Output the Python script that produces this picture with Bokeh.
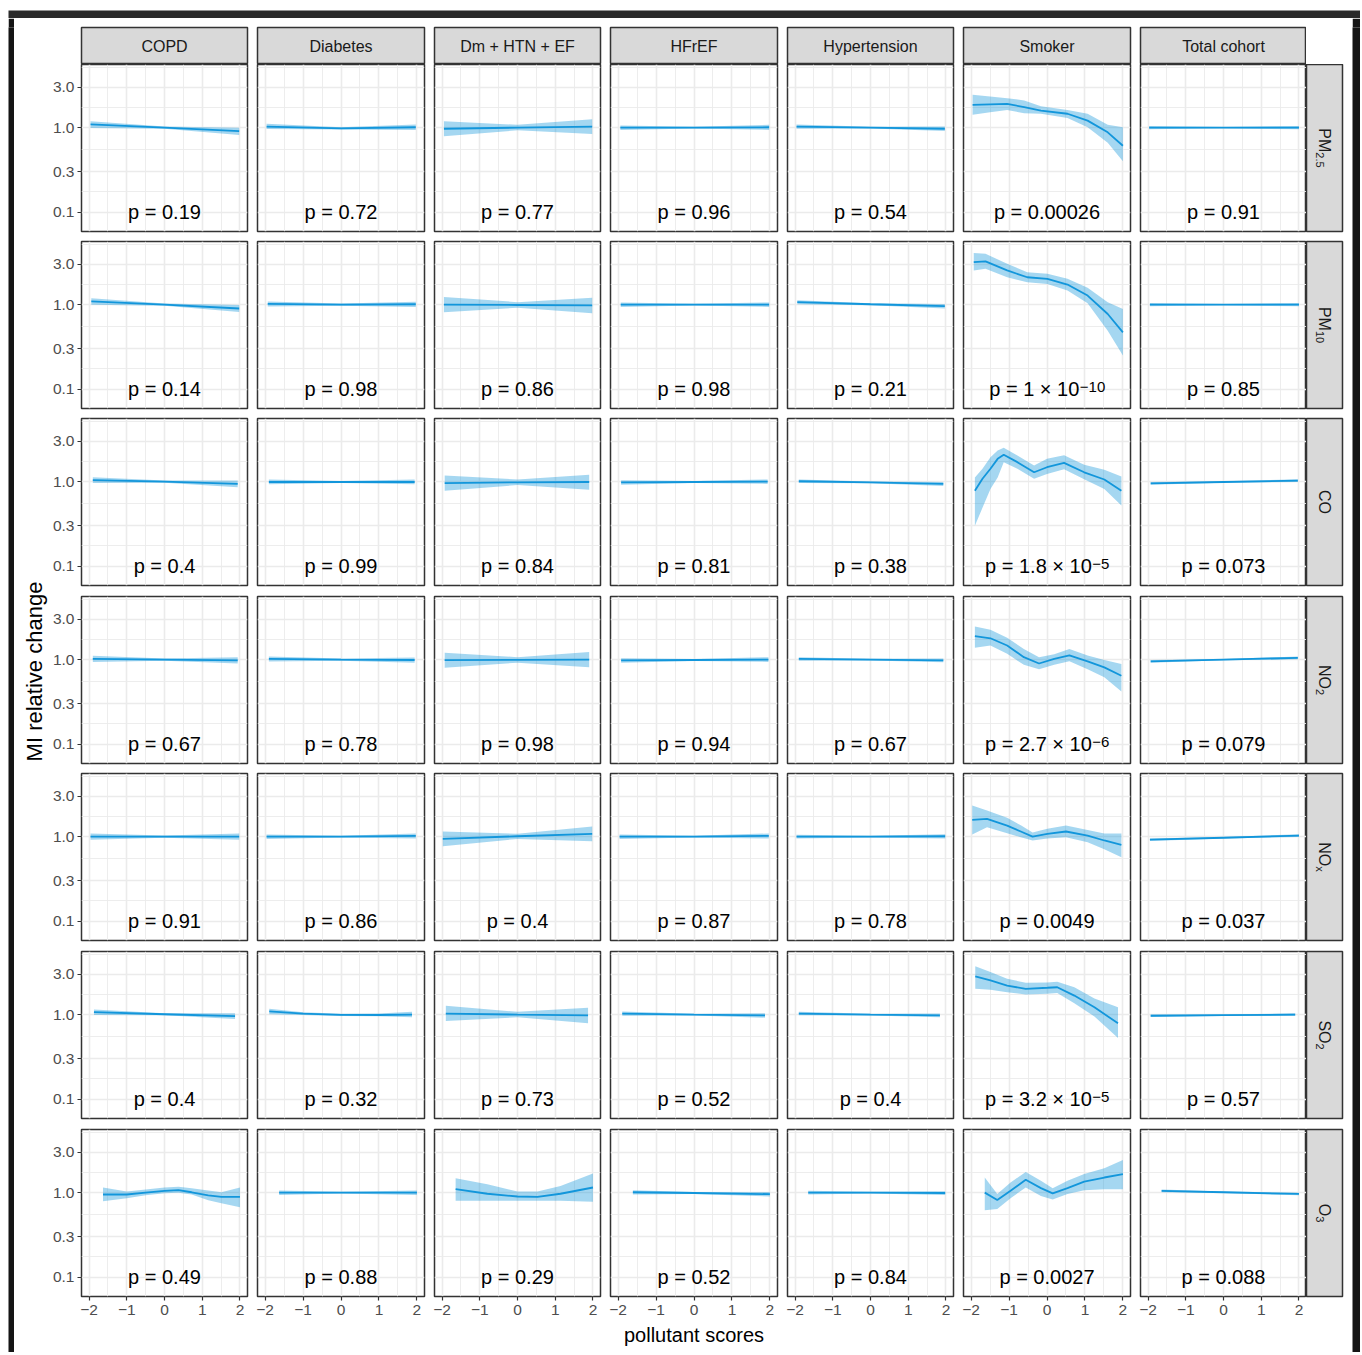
import math
from bokeh.plotting import figure
from bokeh.models import Range1d, FixedTicker, LinearAxis, LogAxis, GridBox, Grid
from bokeh.core.properties import value
from bokeh.embed import file_html
from bokeh.resources import INLINE

# ---------------- data ----------------
GROUPS = ["COPD", "Diabetes", "Dm + HTN + EF", "HFrEF", "Hypertension", "Smoker", "Total cohort"]
POLLUTANT_BASE = ["PM", "PM", "CO", "NO", "NO", "SO", "O"]
POLLUTANT_SUB = ["2.5", "10", "", "2", "x", "2", "3"]

P_COPD = ["0.19", "0.14", "0.4", "0.67", "0.91", "0.4", "0.49"]
P_DIAB = ["0.72", "0.98", "0.99", "0.78", "0.86", "0.32", "0.88"]
P_DMHTN = ["0.77", "0.86", "0.84", "0.98", "0.4", "0.73", "0.29"]
P_HFREF = ["0.96", "0.98", "0.81", "0.94", "0.87", "0.52", "0.52"]
P_HYPER = ["0.54", "0.21", "0.38", "0.67", "0.78", "0.4", "0.84"]
P_SMOKER = ["0.00026", "1 × 10^−10", "1.8 × 10^−5", "2.7 × 10^−6", "0.0049", "3.2 × 10^−5", "0.0027"]
P_TOTAL = ["0.91", "0.85", "0.073", "0.079", "0.037", "0.57", "0.088"]

COPD_X = [[-1.96, 0.0, 1.98], [-1.94, 0.0, 1.98], [-1.90, 0.0, 1.94], [-1.90, 0.0, 1.94],
          [-1.96, 0.0, 1.98], [-1.87, 0.0, 1.87],
          [-1.63, -1.0, -0.5, 0.0, 0.37, 0.72, 1.16, 1.51, 2.0]]
COPD_FIT = [[1.09, 1.00, 0.91], [1.09, 1.00, 0.90], [1.04, 1.00, 0.94], [1.02, 1.00, 0.98],
            [1.00, 1.00, 1.00], [1.07, 1.01, 0.96],
            [0.95, 0.95, 1.00, 1.05, 1.07, 1.01, 0.93, 0.89, 0.89]]
COPD_LO = [[0.99, 0.97, 0.82], [1.00, 0.97, 0.82], [0.96, 0.97, 0.86], [0.94, 0.97, 0.90],
           [0.92, 0.97, 0.92], [0.99, 0.98, 0.89],
           [0.79, 0.86, 0.93, 0.98, 1.00, 0.95, 0.81, 0.75, 0.67]]
COPD_HI = [[1.19, 1.03, 1.00], [1.19, 1.03, 0.99], [1.13, 1.03, 1.03], [1.11, 1.03, 1.07],
           [1.09, 1.03, 1.09], [1.15, 1.04, 1.04],
           [1.15, 1.03, 1.09, 1.15, 1.17, 1.13, 1.06, 1.01, 1.15]]

DIAB_X = [[-1.96, 0.0, 1.97], [-1.93, 0.0, 1.97], [-1.90, 0.0, 1.94], [-1.90, 0.0, 1.94],
          [-1.96, 0.0, 1.97], [-1.89, -1.0, 0.0, 1.0, 1.87], [-1.63, 0.0, 2.0]]
DIAB_FIT = [[1.03, 0.98, 1.01], [1.02, 1.00, 1.01], [0.99, 0.99, 0.99], [1.02, 1.00, 0.99],
            [1.00, 1.00, 1.02], [1.09, 1.03, 0.995, 0.99, 1.00], [1.00, 1.00, 1.00]]
DIAB_LO = [[0.96, 0.95, 0.94], [0.95, 0.97, 0.94], [0.93, 0.965, 0.93], [0.95, 0.97, 0.92],
           [0.94, 0.975, 0.95], [1.01, 0.99, 0.965, 0.955, 0.93], [0.94, 0.975, 0.94]]
DIAB_HI = [[1.11, 1.01, 1.09], [1.09, 1.03, 1.08], [1.06, 1.015, 1.06], [1.09, 1.03, 1.06],
           [1.06, 1.025, 1.09], [1.17, 1.07, 1.025, 1.03, 1.08], [1.06, 1.025, 1.06]]

DMHTN_X = [[-1.95, 0.0, 1.98], [-1.95, 0.0, 1.98], [-1.93, 0.0, 1.90], [-1.93, 0.0, 1.90],
           [-1.98, 0.0, 1.98], [-1.90, 0.0, 1.87], [-1.64, -0.8, 0.0, 0.53, 1.14, 2.0]]
DMHTN_FIT = [[0.97, 1.00, 1.03], [1.00, 0.99, 0.98], [0.96, 0.98, 0.99], [0.985, 0.995, 1.00],
             [0.94, 1.01, 1.08], [1.03, 1.00, 0.98], [1.10, 0.97, 0.90, 0.89, 0.97, 1.15]]
DMHTN_LO = [[0.79, 0.93, 0.84], [0.81, 0.92, 0.79], [0.78, 0.91, 0.80], [0.80, 0.92, 0.81],
            [0.77, 0.94, 0.88], [0.84, 0.93, 0.79], [0.80, 0.80, 0.80, 0.80, 0.80, 0.78]]
DMHTN_HI = [[1.19, 1.08, 1.26], [1.23, 1.07, 1.21], [1.18, 1.06, 1.21], [1.21, 1.07, 1.23],
            [1.15, 1.08, 1.32], [1.27, 1.08, 1.21], [1.48, 1.26, 1.03, 1.03, 1.20, 1.68]]

HFREF_X = [[-1.94, 0.0, 1.98], [-1.93, 0.0, 1.98], [-1.92, 0.0, 1.94], [-1.92, 0.0, 1.96],
           [-1.96, 0.0, 1.97], [-1.89, 0.0, 1.87], [-1.61, 0.0, 2.0]]
HFREF_FIT = [[1.00, 1.00, 1.01], [1.00, 1.00, 1.00], [0.98, 0.99, 1.00], [0.98, 0.99, 1.00],
             [1.00, 1.00, 1.02], [1.03, 1.00, 0.98], [1.01, 0.99, 0.96]]
HFREF_LO = [[0.94, 0.975, 0.94], [0.94, 0.975, 0.94], [0.92, 0.965, 0.94], [0.92, 0.965, 0.94],
            [0.94, 0.975, 0.95], [0.97, 0.975, 0.92], [0.95, 0.965, 0.90]]
HFREF_HI = [[1.06, 1.025, 1.08], [1.06, 1.025, 1.06], [1.04, 1.015, 1.06], [1.04, 1.015, 1.07],
            [1.06, 1.025, 1.09], [1.09, 1.025, 1.04], [1.07, 1.015, 1.02]]

HYPER_X = [[-1.96, 0.0, 1.97], [-1.94, 0.0, 1.97], [-1.90, 0.0, 1.93], [-1.90, 0.0, 1.93],
           [-1.96, 0.0, 1.98], [-1.90, 0.0, 1.84], [-1.65, 0.0, 1.98]]
HYPER_FIT = [[1.03, 1.00, 0.97], [1.07, 1.01, 0.96], [1.01, 0.98, 0.94], [1.02, 1.00, 0.98],
             [1.00, 1.00, 1.01], [1.03, 1.00, 0.98], [1.00, 1.00, 0.99]]
HYPER_LO = [[0.97, 0.975, 0.91], [1.01, 0.985, 0.90], [0.96, 0.955, 0.89], [0.97, 0.975, 0.93],
            [0.95, 0.975, 0.95], [0.98, 0.975, 0.93], [0.95, 0.975, 0.94]]
HYPER_HI = [[1.09, 1.025, 1.03], [1.13, 1.035, 1.02], [1.06, 1.005, 0.99], [1.07, 1.025, 1.03],
            [1.05, 1.025, 1.07], [1.08, 1.025, 1.03], [1.05, 1.025, 1.04]]

SMOKER_X = [[-1.96, -1.5, -1.05, -0.6, -0.16, 0.54, 1.07, 1.6, 2.0],
            [-1.93, -1.62, -1.05, -0.52, 0.01, 0.54, 1.07, 1.6, 2.0],
            [-1.9, -1.7, -1.49, -1.3, -1.14, -0.78, -0.34, 0.0, 0.45, 0.98, 1.51, 1.96],
            [-1.9, -1.49, -1.05, -0.61, -0.21, 0.19, 0.59, 1.07, 1.51, 1.96],
            [-1.97, -1.58, -1.05, -0.69, -0.38, 0.01, 0.5, 1.07, 1.51, 1.96],
            [-1.89, -1.49, -1.05, -0.56, 0.01, 0.27, 0.72, 1.25, 1.87],
            [-1.64, -1.31, -0.96, -0.56, -0.16, 0.15, 0.54, 0.98, 1.51, 2.0]]
SMOKER_FIT = [[1.86, 1.89, 1.91, 1.75, 1.59, 1.46, 1.21, 0.88, 0.61],
              [3.19, 3.25, 2.54, 2.11, 2.02, 1.73, 1.28, 0.775, 0.47],
              [0.78, 1.08, 1.42, 1.86, 2.08, 1.70, 1.29, 1.48, 1.67, 1.29, 1.06, 0.78],
              [1.90, 1.79, 1.47, 1.07, 0.90, 1.02, 1.12, 0.955, 0.81, 0.645],
              [1.58, 1.62, 1.35, 1.15, 1.00, 1.08, 1.15, 1.03, 0.90, 0.80],
              [2.83, 2.54, 2.21, 2.02, 2.08, 2.11, 1.68, 1.22, 0.79],
              [1.00, 0.82, 1.05, 1.42, 1.13, 0.98, 1.13, 1.35, 1.51, 1.66]]
SMOKER_LO = [[1.42, 1.52, 1.62, 1.48, 1.46, 1.30, 1.01, 0.66, 0.40],
             [2.54, 2.66, 2.11, 1.84, 1.76, 1.47, 1.04, 0.49, 0.25],
             [0.30, 0.49, 0.82, 1.12, 1.70, 1.42, 1.08, 1.23, 1.40, 1.07, 0.82, 0.52],
             [1.38, 1.47, 1.17, 0.87, 0.77, 0.87, 0.955, 0.77, 0.62, 0.42],
             [1.06, 1.29, 1.10, 0.98, 0.90, 0.95, 0.98, 0.855, 0.71, 0.57],
             [2.02, 1.97, 1.84, 1.73, 1.77, 1.80, 1.36, 0.95, 0.53],
             [0.62, 0.64, 0.86, 1.15, 0.915, 0.83, 0.96, 1.07, 1.10, 1.10]]
SMOKER_HI = [[2.45, 2.34, 2.23, 2.10, 1.79, 1.62, 1.46, 1.08, 1.01],
             [4.08, 4.00, 3.05, 2.42, 2.32, 2.02, 1.58, 1.07, 0.89],
             [1.12, 1.42, 1.95, 2.34, 2.52, 2.04, 1.55, 1.86, 2.05, 1.58, 1.38, 1.15],
             [2.47, 2.26, 1.81, 1.34, 1.07, 1.16, 1.34, 1.12, 0.99, 0.89],
             [2.34, 2.04, 1.67, 1.36, 1.12, 1.24, 1.35, 1.20, 1.09, 1.09],
             [3.73, 3.19, 2.66, 2.38, 2.40, 2.45, 2.11, 1.55, 1.22],
             [1.51, 0.96, 1.32, 1.76, 1.38, 1.13, 1.38, 1.66, 1.95, 2.43]]

TOTAL_X = [[-1.97, 0.0, 2.0], [-1.95, 0.0, 2.0], [-1.93, 0.0, 1.97], [-1.93, 0.0, 1.97],
           [-1.95, 0.0, 2.0], [-1.93, 0.0, 1.90], [-1.64, 0.0, 2.0]]
TOTAL_FIT = [[1.00, 1.00, 1.00], [1.00, 1.00, 1.00], [0.955, 0.99, 1.03], [0.955, 1.00, 1.05],
             [0.92, 0.97, 1.03], [0.97, 0.985, 1.00], [1.05, 1.01, 0.965]]
TOTAL_LO = [[0.955, 0.98, 0.955], [0.955, 0.98, 0.955], [0.92, 0.97, 0.99], [0.92, 0.98, 1.01],
            [0.89, 0.95, 0.99], [0.935, 0.965, 0.965], [1.01, 0.99, 0.93]]
TOTAL_HI = [[1.045, 1.02, 1.045], [1.045, 1.02, 1.045], [0.99, 1.01, 1.07], [0.99, 1.02, 1.09],
            [0.95, 0.99, 1.07], [1.005, 1.005, 1.035], [1.09, 1.03, 1.00]]

X_TICKS = [-2, -1, 0, 1, 2]
X_TICK_LABELS = ["−2", "−1", "0", "1", "2"]
Y_TICKS = [0.1, 0.3, 1.0, 3.0]
Y_TICK_LABELS = ["0.1", "0.3", "1.0", "3.0"]

SERIES = [
    (COPD_X, COPD_FIT, COPD_LO, COPD_HI, P_COPD),
    (DIAB_X, DIAB_FIT, DIAB_LO, DIAB_HI, P_DIAB),
    (DMHTN_X, DMHTN_FIT, DMHTN_LO, DMHTN_HI, P_DMHTN),
    (HFREF_X, HFREF_FIT, HFREF_LO, HFREF_HI, P_HFREF),
    (HYPER_X, HYPER_FIT, HYPER_LO, HYPER_HI, P_HYPER),
    (SMOKER_X, SMOKER_FIT, SMOKER_LO, SMOKER_HI, P_SMOKER),
    (TOTAL_X, TOTAL_FIT, TOTAL_LO, TOTAL_HI, P_TOTAL),
]

# ---------------- style / layout ----------------
FONT = "Liberation Sans"
BLUE = "#1296DB"
GRID_C = "#EBEBEB"
DARK = "#333333"
STRIP_FILL = "#D9D9D9"
P_SIZE = 20
EXP_SIZE = 15
STRIP_SIZE = 16
SUB_SIZE = 11
P_Y = 0.1                      # p-value label sits on the 0.1 gridline
EXP_RAISE_PX = 2
PX_PER_DECADE = 84

# Arial/Liberation advance widths (1/1000 em) for composing labels
ADV = {" ": 278, "p": 556, "=": 584, "×": 584, "−": 584, ".": 278, "x": 500,
       "P": 667, "M": 833, "C": 722, "O": 778, "N": 722, "S": 667}
for d in "0123456789":
    ADV[d] = 556


def text_w(s, size):
    return sum(ADV.get(ch, 556) for ch in s) * size / 1000.0


FW = [166, 167, 166, 167, 166, 167, 166]      # panel frame widths
FH = 167                                       # panel frame height
LB = [32, 5, 5, 5, 5, 5, 5]                    # left borders per column
RB = [5, 5, 5, 5, 5, 5, 0]                     # right borders per column
TB = [0, 5, 5, 6, 5, 6, 6]                     # top borders per row
BB = [5, 5, 5, 5, 5, 5, 28]                    # bottom borders per row
RS_W = 36
RS_RIGHT = 10
RBAR_W = 8
YLAB_W = 35

x_minor = [(a + b) / 2 for a, b in zip(X_TICKS[:-1], X_TICKS[1:])]
ext_y = Y_TICKS + [Y_TICKS[-1] * Y_TICKS[-1] / Y_TICKS[-2]]
y_minor = [math.sqrt(a * b) for a, b in zip(ext_y[:-1], ext_y[1:])]


def blank(fw, fh, l=0, r=0, t=0, b=0):
    p = figure(frame_width=fw, frame_height=fh, min_border_left=l, min_border_right=r,
               min_border_top=t, min_border_bottom=b, toolbar_location=None,
               output_backend="svg", x_axis_location=None, y_axis_location=None,
               title=None, x_range=Range1d(0, 1), y_range=Range1d(0, 1))
    p.grid.visible = False
    p.outline_line_color = None
    p.border_fill_color = "white"
    p.background_fill_color = "white"
    return p


def bar(fw, fh, color):
    p = blank(fw, fh)
    p.background_fill_color = color
    p.border_fill_color = color
    return p


def add_p_label(p, ptxt):
    common = dict(text_font=value(FONT), text_color="black")
    if "^" not in ptxt:
        p.text(x=[0], y=[P_Y], text=["p = " + ptxt], text_align="center",
               text_baseline="middle", text_font_size=f"{P_SIZE}px", **common)
        return
    base, expo = ptxt.split("^")
    main = "p = " + base
    mw = text_w(main, P_SIZE)
    ew = text_w(expo, EXP_SIZE)
    join = mw - (mw + ew) / 2.0
    p.text(x=[0], y=[P_Y], text=[main], text_align="right", text_baseline="middle",
           x_offset=join, text_font_size=f"{P_SIZE}px", **common)
    exp_y = P_Y * 10 ** (EXP_RAISE_PX / PX_PER_DECADE)
    p.text(x=[0], y=[exp_y], text=[expo], text_align="left", text_baseline="alphabetic",
           x_offset=join + 0.5, text_font_size=f"{EXP_SIZE}px", **common)


def panel(r, c):
    xs, fits, los, his, ps = SERIES[c]
    p = figure(frame_width=FW[c], frame_height=FH, min_border_left=LB[c], min_border_right=RB[c],
               min_border_top=TB[r], min_border_bottom=BB[r], toolbar_location=None,
               output_backend="svg", x_axis_location=None, y_axis_location=None, title=None,
               x_range=Range1d(-2.2, 2.2), y_range=Range1d(0.0589, 5.59), y_axis_type="log")
    p.center = [o for o in p.center if not isinstance(o, Grid)]
    xt = FixedTicker(ticks=X_TICKS, minor_ticks=x_minor)
    yt = FixedTicker(ticks=Y_TICKS, minor_ticks=y_minor)
    for dim, tk in ((0, xt), (1, yt)):
        g = Grid(dimension=dim, ticker=tk, grid_line_color=GRID_C, grid_line_width=1.6,
                 minor_grid_line_color=GRID_C, minor_grid_line_width=0.9)
        p.add_layout(g, "center")
    p.outline_line_color = DARK
    p.outline_line_width = 1.5
    p.background_fill_color = "white"
    p.border_fill_color = "white"

    p.varea(x=xs[r], y1=los[r], y2=his[r], fill_color=BLUE, fill_alpha=0.38)
    p.line(x=xs[r], y=fits[r], line_color=BLUE, line_width=1.8)
    add_p_label(p, ps[r])

    def style(ax):
        ax.axis_line_color = None
        ax.major_tick_line_color = DARK
        ax.major_tick_line_width = 1.2
        ax.major_tick_out = 4
        ax.major_tick_in = 0
        ax.minor_tick_line_color = None
        ax.major_label_text_font = FONT
        ax.major_label_text_font_size = "15.5px"
        ax.major_label_text_color = "#4D4D4D"
        ax.major_label_standoff = 3

    if c == 0:
        ay = LogAxis(ticker=yt, major_label_overrides=dict(zip(Y_TICKS, Y_TICK_LABELS)))
        style(ay)
        p.add_layout(ay, "left")
    if r == 6:
        ax = LinearAxis(ticker=xt, major_label_overrides=dict(zip(X_TICKS, X_TICK_LABELS)))
        style(ax)
        ax.major_label_standoff = 4
        p.add_layout(ax, "below")
    return p


def strip_box(fw, fh, l, r, t, b):
    s = blank(fw, fh, l, r, t, b)
    s.background_fill_color = STRIP_FILL
    s.outline_line_color = DARK
    s.outline_line_width = 1.5
    return s


def top_strip(c):
    s = strip_box(FW[c], 37, LB[c], RB[c], 9, 0)
    s.text(x=[0.5], y=[0.5], text=[GROUPS[c]], text_align="center",
           text_baseline="middle", text_font=value(FONT), text_font_size=f"{STRIP_SIZE}px",
           text_color="#1A1A1A")
    return s


def row_strip(r):
    s = strip_box(RS_W, FH, 0, RS_RIGHT, TB[r], BB[r])
    base, sub = POLLUTANT_BASE[r], POLLUTANT_SUB[r]
    common = dict(angle=-math.pi / 2, text_baseline="middle", text_font=value(FONT),
                  text_color="#1A1A1A")
    if not sub:
        s.text(x=[0.5], y=[0.5], text=[base], text_align="center",
               text_font_size=f"{STRIP_SIZE}px", **common)
        return s
    wb = text_w(base, STRIP_SIZE)
    ws = text_w(sub, SUB_SIZE)
    top = 0.5 + (wb + ws) / 2.0 / FH             # reading starts at the top (rotated text)
    s.text(x=[0.5], y=[top], text=[base], text_align="left",
           text_font_size=f"{STRIP_SIZE}px", **common)
    s.text(x=[0.5 - 4.5 / RS_W], y=[top - wb / FH], text=[sub], text_align="left",
           text_font_size=f"{SUB_SIZE}px", **common)
    return s


children = []
row_heights = [TB[r] + FH + BB[r] for r in range(7)]
panels_h = sum(row_heights)
STRIP_H = 9 + 37
XLAB_H = 28
total_w = 6 + YLAB_W + sum(LB[c] + FW[c] + RB[c] for c in range(7)) + RS_W + RS_RIGHT + RBAR_W
side_h = STRIP_H + panels_h + XLAB_H

children.append((bar(total_w, 10, "#2A2A2A"), 0, 0, 1, 11))
children.append((bar(6, side_h, "#151515"), 1, 0, 9, 1))
children.append((bar(RBAR_W, side_h, "#151515"), 1, 10, 9, 1))

# y axis title
ylab = blank(YLAB_W, panels_h - 46, l=0, r=0, t=0, b=46)
ylab.text(x=[0.5], y=[0.5], text=["MI relative change"], angle=math.pi / 2, text_align="center",
          text_baseline="middle", x_offset=2.5, text_font=value(FONT), text_font_size="22px",
          text_color="black")
children.append((ylab, 2, 1, 7, 1))

for c in range(7):
    children.append((top_strip(c), 1, 2 + c))

for r in range(7):
    for c in range(7):
        children.append((panel(r, c), 2 + r, 2 + c))
    children.append((row_strip(r), 2 + r, 9))

# x axis title
xw = sum(FW) + sum(RB[:6]) + sum(LB[1:])
xlab = blank(xw, XLAB_H, l=LB[0], r=0, t=0, b=0)
xlab.text(x=[0.5], y=[0.62], text=["pollutant scores"], text_align="center", text_baseline="middle",
          text_font=value(FONT), text_font_size="20px", text_color="black")
children.append((xlab, 9, 2, 1, 7))

grid = GridBox(children=children, spacing=0, margin=(8, 0, 0, 8))

open("out.html", "w").write(file_html(grid, INLINE))
